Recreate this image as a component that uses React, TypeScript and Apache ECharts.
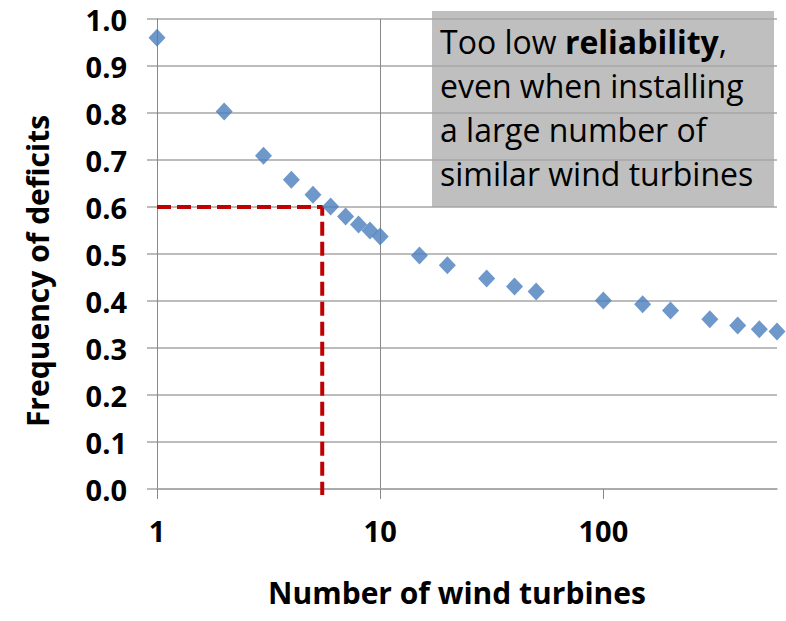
import React, { useEffect, useRef } from "react";
import * as echarts from "echarts";

const turbines = [1, 2, 3, 4, 5, 6, 7, 8, 9, 10, 15, 20, 30, 40, 50, 100, 150, 200, 300, 400, 500, 600];
const deficitFreq = [0.96, 0.803, 0.709, 0.658, 0.626, 0.601, 0.58, 0.563, 0.55, 0.537, 0.497, 0.476, 0.448, 0.431, 0.42, 0.401, 0.393, 0.38, 0.361, 0.348, 0.34, 0.335];
const refX = [1, 5.5, 5.5];
const refY = [0.6, 0.6, -0.013];
const xTickValues = [1, 10, 100];
const annotationLines = ["Too low {b|reliability},", "even when installing", "a large number of", "similar wind turbines"];

const FONT = "'Open Sans', sans-serif";

export default function App() {
  const ref = useRef<HTMLDivElement>(null);
  useEffect(() => {
    if (!ref.current) return;
    const chart = echarts.init(ref.current, null, { renderer: "svg" });
    chart.setOption({
      animation: false,
      backgroundColor: "#ffffff",
      grid: { left: 157, right: 9, top: 19, bottom: 132, containLabel: false },
      xAxis: {
        type: "log",
        logBase: 10,
        min: 1,
        max: 600,
        name: "Number of wind turbines",
        nameLocation: "middle",
        nameGap: 88,
        nameTextStyle: { fontFamily: FONT, fontWeight: "bold", fontSize: 30, color: "#000", padding: [0, 0, 0, -20] },
        axisLine: { show: true, lineStyle: { color: "#a6a6a6", width: 1.5 } },
        axisTick: { show: true, length: 10, lineStyle: { color: "#888888" }, customValues: xTickValues },
        axisLabel: {
          customValues: xTickValues,
          margin: 27,
          fontFamily: FONT,
          fontWeight: "bold",
          fontSize: 29,
          color: "#000",
        },
        splitLine: { show: true, showMaxLine: false, lineStyle: { color: "#888888", width: 1 } },
      },
      yAxis: {
        type: "value",
        min: 0,
        max: 1,
        interval: 0.1,
        name: "Frequency of deficits",
        nameLocation: "middle",
        nameGap: 105,
        nameRotate: 90,
        nameTextStyle: { fontFamily: FONT, fontWeight: "bold", fontSize: 30, color: "#000", padding: [0, 0, 0, -34] },
        axisLine: { show: true, lineStyle: { color: "#888888", width: 1 } },
        axisTick: { show: true, length: 10, lineStyle: { color: "#a6a6a6", width: 1.5 } },
        axisLabel: {
          margin: 30,
          fontFamily: FONT,
          fontWeight: "bold",
          fontSize: 29,
          color: "#000",
          formatter: (v: number) => v.toFixed(1),
        },
        splitLine: { show: true, lineStyle: { color: "#a6a6a6", width: 1.5 } },
      },
      series: [
        {
          type: "line",
          data: refX.map((x, i) => [x, refY[i]]),
          symbol: "none",
          clip: false,
          lineStyle: { color: "#c00000", width: 4, type: [14, 6] },
          z: 2,
        },
        {
          type: "scatter",
          data: turbines.map((x, i) => [x, deficitFreq[i]]),
          symbol: "diamond",
          symbolSize: [17, 18],
          itemStyle: { color: "#4a7ebb" },
          z: 3,
        },
      ],
      graphic: [
        {
          type: "group",
          left: 432,
          top: 11,
          z: 10,
          children: [
            { type: "rect", shape: { x: 0, y: 0, width: 342, height: 196 }, style: { fill: "#bfbfbf" } },
            {
              type: "text",
              x: 8,
              y: 8,
              style: {
                text: annotationLines.join("\n"),
                fontFamily: FONT,
                fontSize: 32,
                lineHeight: 44,
                fill: "#000",
                rich: {
                  b: { fontFamily: FONT, fontSize: 32, fontWeight: "bold", lineHeight: 44, fill: "#000" },
                },
              },
            },
          ],
        },
      ],
    });
    return () => chart.dispose();
  }, []);
  return <div ref={ref} style={{ position: "fixed", left: 0, top: 0, width: 786, height: 621 }} />;
}
